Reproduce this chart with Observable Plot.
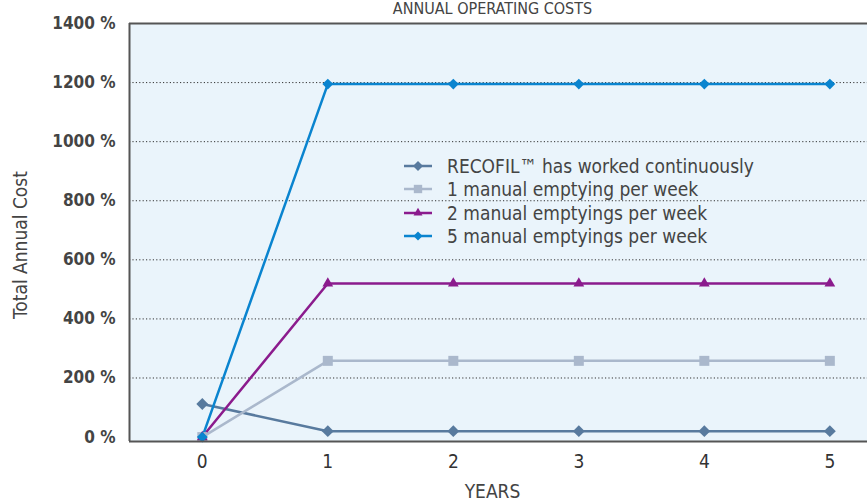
<!DOCTYPE html>
<html><head><meta charset="utf-8">
<script src="https://cdn.jsdelivr.net/npm/d3@7"></script>
<script src="https://cdn.jsdelivr.net/npm/@observablehq/plot@0.6"></script>
<style>
html,body{margin:0;padding:0;background:#fff;overflow:hidden}
#wrap{position:relative;width:867px;height:503px;font-family:"Liberation Sans Narrow","DejaVu Sans Condensed",Roboto,sans-serif;color:#444}
.lbl{position:absolute;font-size:19px;color:#444;white-space:nowrap}
#legend{position:absolute;left:403px;top:154px;font-size:19px;color:#444}
#legend .row{display:flex;align-items:center;height:23.5px;white-space:nowrap}
#legend svg{margin-right:14px}
</style></head><body>
<div id="wrap"></div>
<script>
const years = [0, 1, 2, 3, 4, 5];
const seriesNames = ["RECOFIL\u2122 has worked continuously", "1 manual emptying per week", "2 manual emptyings per week", "5 manual emptyings per week"];
const recofil = [112, 20, 20, 20, 20, 20];
const manual1 = [0, 258, 258, 258, 258, 258];
const manual2 = [0, 520, 520, 520, 520, 520];
const manual5 = [0, 1195, 1195, 1195, 1195, 1195];
const yTicks = [0, 200, 400, 600, 800, 1000, 1200, 1400];
const colors = ["#587a9e", "#aab8cc", "#8b1b8d", "#0a84cf"];
const symbols = ["diamond2", "square", "triangle", "diamond2"];
const sizes = [90, 100, 50, 75];

const allValues = [recofil, manual1, manual2, manual5];
const data = [];
allValues.forEach((vals, i) => years.forEach((yr, j) => data.push({series: seriesNames[i], year: yr, value: vals[j]})));

const yDomain = [-15, 1400];
const xDomain = [-0.58, 5.3];

const plot = Plot.plot({
  width: 867, height: 503,
  marginTop: 23, marginBottom: 62, marginLeft: 129, marginRight: 0,
  style: {fontFamily: '"Liberation Sans Narrow","DejaVu Sans Condensed",Roboto,sans-serif', background: "transparent"},
  x: {domain: xDomain, ticks: years, tickFormat: d => String(d), tickSize: 0, tickPadding: 12, label: null},
  y: {domain: yDomain, ticks: yTicks, tickFormat: d => d + " %", tickSize: 0, tickPadding: 14, label: null},
  marks: [
    Plot.frame({fill: "#eaf4fb", stroke: null}),
    Plot.ruleY(yTicks.filter(d => d > 0 && d < 1400), {stroke: "#333", strokeDasharray: "1.2,2.2", strokeWidth: 1}),
    ...seriesNames.map((s, i) => Plot.line(data.filter(d => d.series === s), {x: "year", y: "value", stroke: colors[i], strokeWidth: 2.5})),
    ...seriesNames.map((s, i) => Plot.dot(data.filter(d => d.series === s), {x: "year", y: "value", symbol: symbols[i], fill: colors[i], r: Math.sqrt(sizes[i] / Math.PI)})),
    Plot.ruleY([yDomain[1]], {stroke: "#555", strokeWidth: 2}),
    Plot.ruleY([yDomain[0]], {stroke: "#555", strokeWidth: 2}),
    Plot.ruleX([xDomain[0]], {stroke: "#555", strokeWidth: 2}),
    Plot.axisY({ticks: yTicks, tickFormat: d => d + " %", tickSize: 0, tickPadding: 14, fontSize: 17, fontWeight: "bold", fill: "#444", label: null}),
    Plot.axisX({ticks: years, tickFormat: d => String(d), tickSize: 0, tickPadding: 13, fontSize: 19, fill: "#333", label: null})
  ]
});
const wrap = document.getElementById("wrap");
plot.style.position = "absolute"; plot.style.left = "0"; plot.style.top = "0";
wrap.appendChild(plot);

const title = document.createElement("div");
title.className = "lbl"; title.textContent = "ANNUAL OPERATING COSTS";
title.style.left = "0"; title.style.width = "985px"; title.style.textAlign = "center"; title.style.top = "0px"; title.style.fontSize = "16px"; title.style.lineHeight = "18px";
wrap.appendChild(title);

const xl = document.createElement("div");
xl.className = "lbl"; xl.textContent = "YEARS";
xl.style.left = "0"; xl.style.width = "985px"; xl.style.textAlign = "center"; xl.style.top = "480px"; xl.style.fontSize = "19px"; xl.style.lineHeight = "22px";
wrap.appendChild(xl);

const yl = document.createElement("div");
yl.className = "lbl"; yl.textContent = "Total Annual Cost";
yl.style.left = "20px"; yl.style.top = "245px"; yl.style.transform = "translate(-50%,-50%) rotate(-90deg)"; yl.style.fontSize = "19px";
wrap.appendChild(yl);

const legend = document.createElement("div");
legend.id = "legend";
seriesNames.forEach((s, i) => {
  const row = document.createElement("div"); row.className = "row";
  const sym = d3.create("svg").attr("width", 30).attr("height", 14);
  sym.append("line").attr("x1", 1).attr("x2", 29).attr("y1", 7).attr("y2", 7).attr("stroke", colors[i]).attr("stroke-width", 2.5);
  const st = {diamond2: d3.symbolDiamond2, square: d3.symbolSquare, triangle: d3.symbolTriangle}[symbols[i]];
  sym.append("path").attr("d", d3.symbol(st, sizes[i] * 0.7)()).attr("transform", "translate(15,7)").attr("fill", colors[i]);
  row.appendChild(sym.node());
  const t = document.createElement("span"); t.textContent = s; row.appendChild(t);
  legend.appendChild(row);
});
wrap.appendChild(legend);
</script>
</body></html>
